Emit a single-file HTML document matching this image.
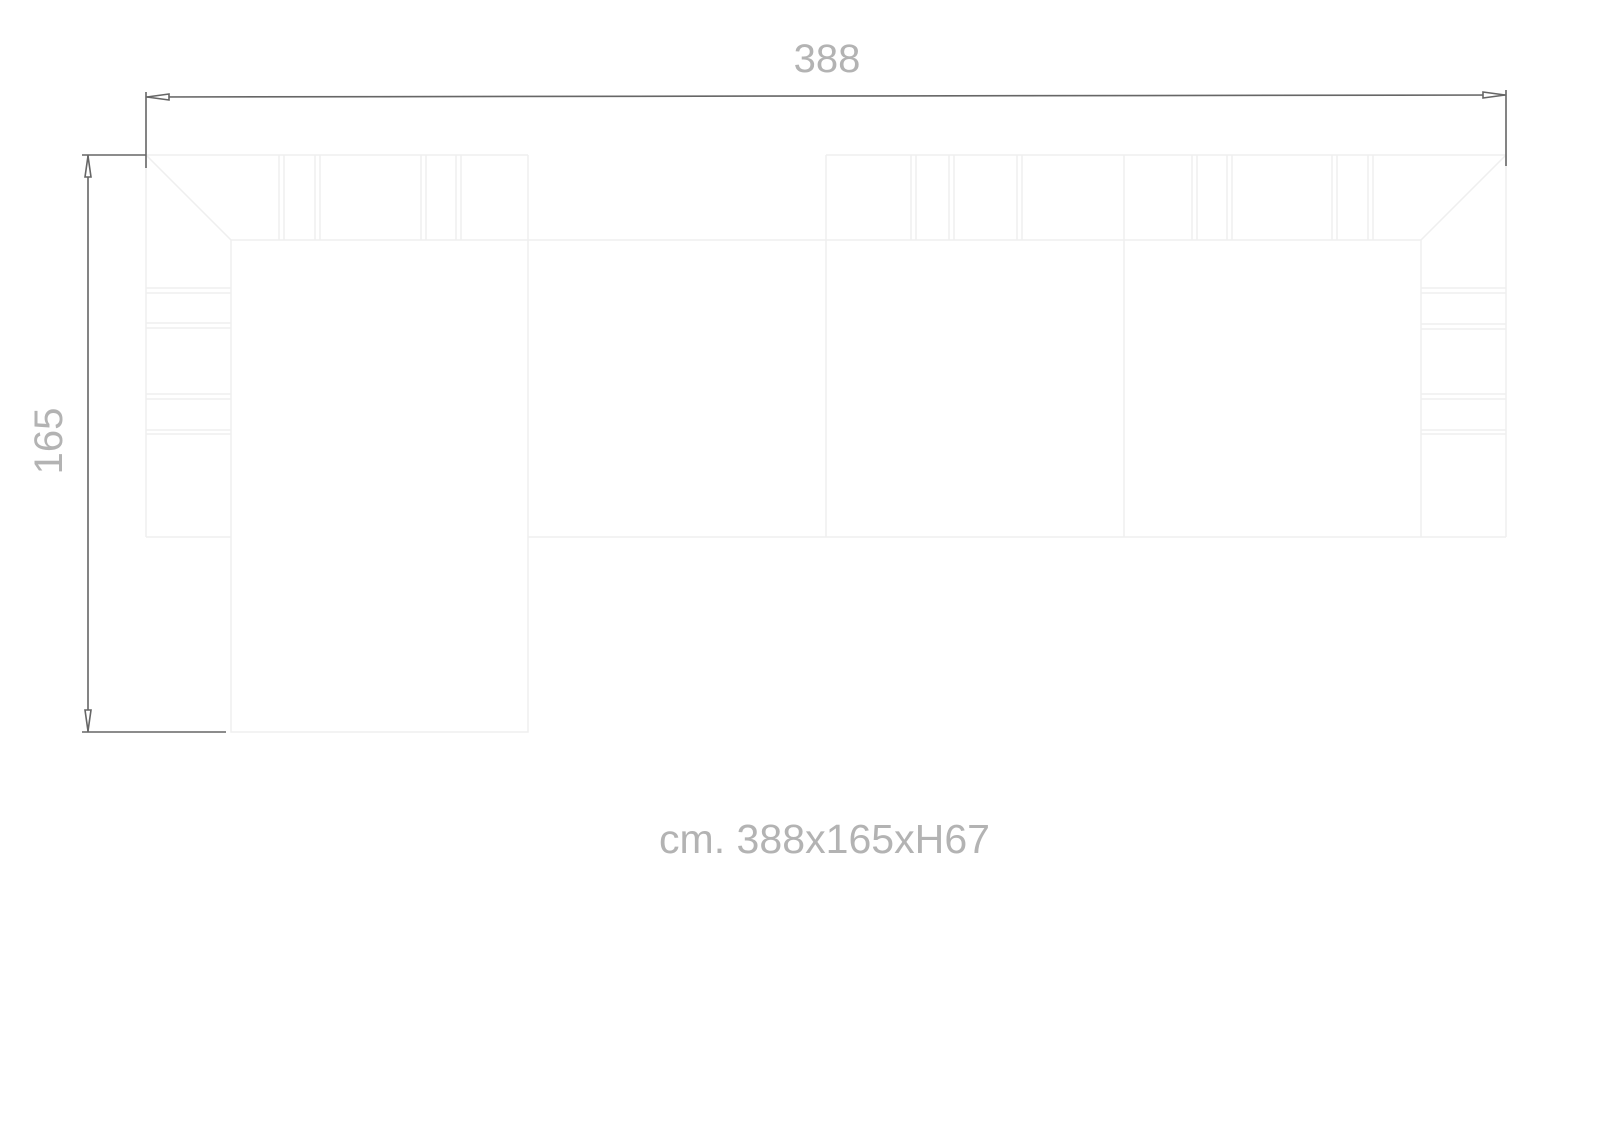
<!DOCTYPE html>
<html><head><meta charset="utf-8"><style>html,body{margin:0;padding:0;background:#fff}svg{display:block}</style></head>
<body>
<svg width="1598" height="1136" viewBox="0 0 1598 1136" xmlns="http://www.w3.org/2000/svg">
<g fill="none" stroke="#efefef" stroke-width="1.5">
  <line x1="146" y1="155" x2="528" y2="155"/>
  <line x1="146" y1="155" x2="146" y2="537"/>
  <line x1="146" y1="537" x2="231" y2="537"/>
  <line x1="146" y1="155" x2="231" y2="240"/>
  <rect x="231" y="240" width="297" height="492"/>
  <line x1="528" y1="155" x2="528" y2="240"/>
  <line x1="279" y1="155" x2="279" y2="240"/><line x1="284" y1="155" x2="284" y2="240"/>
  <line x1="315" y1="155" x2="315" y2="240"/><line x1="320" y1="155" x2="320" y2="240"/>
  <line x1="421" y1="155" x2="421" y2="240"/><line x1="426" y1="155" x2="426" y2="240"/>
  <line x1="456" y1="155" x2="456" y2="240"/><line x1="461" y1="155" x2="461" y2="240"/>
  <line x1="146" y1="288" x2="231" y2="288"/><line x1="146" y1="293" x2="231" y2="293"/>
  <line x1="146" y1="323" x2="231" y2="323"/><line x1="146" y1="328" x2="231" y2="328"/>
  <line x1="146" y1="394" x2="231" y2="394"/><line x1="146" y1="399" x2="231" y2="399"/>
  <line x1="146" y1="430" x2="231" y2="430"/><line x1="146" y1="434" x2="231" y2="434"/>
  <line x1="528" y1="240" x2="826" y2="240"/>
  <line x1="528" y1="537" x2="1506" y2="537"/>
  <line x1="826" y1="155" x2="1506" y2="155"/>
  <line x1="826" y1="155" x2="826" y2="537"/>
  <line x1="1124" y1="155" x2="1124" y2="537"/>
  <line x1="1506" y1="155" x2="1506" y2="537"/>
  <line x1="826" y1="240" x2="1421" y2="240"/>
  <line x1="1421" y1="240" x2="1421" y2="537"/>
  <line x1="1421" y1="240" x2="1506" y2="155"/>
  <line x1="911" y1="155" x2="911" y2="240"/><line x1="916" y1="155" x2="916" y2="240"/>
  <line x1="949" y1="155" x2="949" y2="240"/><line x1="954" y1="155" x2="954" y2="240"/>
  <line x1="1017" y1="155" x2="1017" y2="240"/><line x1="1022" y1="155" x2="1022" y2="240"/>
  <line x1="1192" y1="155" x2="1192" y2="240"/><line x1="1197" y1="155" x2="1197" y2="240"/>
  <line x1="1227" y1="155" x2="1227" y2="240"/><line x1="1232" y1="155" x2="1232" y2="240"/>
  <line x1="1332" y1="155" x2="1332" y2="240"/><line x1="1337" y1="155" x2="1337" y2="240"/>
  <line x1="1368" y1="155" x2="1368" y2="240"/><line x1="1373" y1="155" x2="1373" y2="240"/>
  <line x1="1421" y1="288" x2="1506" y2="288"/><line x1="1421" y1="293" x2="1506" y2="293"/>
  <line x1="1421" y1="324" x2="1506" y2="324"/><line x1="1421" y1="329" x2="1506" y2="329"/>
  <line x1="1421" y1="394" x2="1506" y2="394"/><line x1="1421" y1="399" x2="1506" y2="399"/>
  <line x1="1421" y1="430" x2="1506" y2="430"/><line x1="1421" y1="434" x2="1506" y2="434"/>
</g>
<g stroke="#666" stroke-width="1.6" fill="#fff">
  <line x1="146" y1="97" x2="1506" y2="95"/>
  <line x1="146" y1="92" x2="146" y2="168"/>
  <line x1="1506" y1="90" x2="1506" y2="166"/>
  <polygon points="147,97 169,94 169,100"/>
  <polygon points="1505,95 1483,92 1483,98"/>
  <line x1="88" y1="155" x2="88" y2="732"/>
  <line x1="82" y1="155" x2="146" y2="155"/>
  <line x1="82" y1="732" x2="226" y2="732"/>
  <polygon points="88,156 85,177 91,177"/>
  <polygon points="88,731 85,710 91,710"/>
</g>
<g fill="#b3b3b3" font-family="'Liberation Sans', sans-serif">
  <text x="827" y="72" font-size="40" text-anchor="middle">388</text>
  <text transform="translate(62,441) rotate(-90)" font-size="40" text-anchor="middle">165</text>
  <text x="659" y="853" font-size="41" textLength="331" lengthAdjust="spacingAndGlyphs">cm. 388x165xH67</text>
</g>
</svg>
</body></html>
